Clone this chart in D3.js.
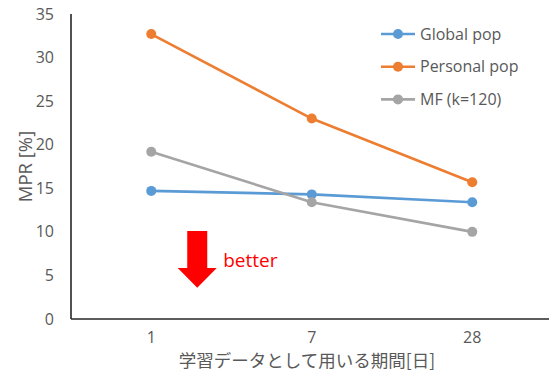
<!DOCTYPE html>
<html>
<head>
<meta charset="utf-8">
<script src="https://cdn.jsdelivr.net/npm/d3@7"></script>
<style>
  html, body { margin: 0; padding: 0; background: #fff; }
  svg { display: block; }
  text { font-family: "Open Sans", "Noto Sans", sans-serif; fill: #595959; }
</style>
</head>
<body>
<svg id="chart" width="549" height="371"></svg>
<script>
// Training-period categories (days)
const periods = ["1", "7", "28"];

// MPR [%] per method
const globalPop   = [14.7, 14.3, 13.4];
const personalPop = [32.7, 23.0, 15.7];
const mfK120      = [19.2, 13.4, 10.0];

const seriesNames = ["Global pop", "Personal pop", "MF (k=120)"];
const yTicks = [0, 5, 10, 15, 20, 25, 30, 35];

const series = [
  { name: seriesNames[0], values: globalPop,   color: "#5B9BD5" },
  { name: seriesNames[1], values: personalPop, color: "#ED7D31" },
  { name: seriesNames[2], values: mfK120,      color: "#A5A5A5" }
];

const svg = d3.select("#chart");
const plotLeft = 71, plotRight = 552.5, plotTop = 14, plotBottom = 319;

const x = d3.scaleBand().domain(periods).range([plotLeft, plotRight]);
const y = d3.scaleLinear().domain([0, 35]).range([plotBottom, plotTop]);
const cx = d => x(d) + x.bandwidth() / 2;

// Y axis: labels only, plus the axis line
const yAxis = svg.append("g")
  .attr("transform", `translate(${plotLeft},0)`)
  .call(d3.axisLeft(y).tickValues(yTicks).tickSize(0).tickPadding(17));
yAxis.select(".domain").remove();
yAxis.selectAll("text")
  .attr("font-size", 16)
  .attr("fill", "#595959")
  .style("font-family", "'Open Sans', sans-serif");

// X axis labels
const xAxis = svg.append("g")
  .attr("transform", `translate(0,${plotBottom})`)
  .call(d3.axisBottom(x).tickSize(0).tickPadding(13));
xAxis.select(".domain").remove();
xAxis.selectAll("text")
  .attr("font-size", 16)
  .attr("fill", "#595959")
  .style("font-family", "'Open Sans', sans-serif");

// Axis lines
svg.append("line")
  .attr("x1", plotLeft).attr("x2", plotLeft)
  .attr("y1", y(35)).attr("y2", y(0))
  .attr("stroke", "#262626").attr("stroke-width", 1.6);
svg.append("line")
  .attr("x1", plotLeft).attr("x2", 549)
  .attr("y1", y(0)).attr("y2", y(0))
  .attr("stroke", "#262626").attr("stroke-width", 1.6);

// Series lines and markers
const line = d3.line().x((d, i) => cx(periods[i])).y(d => y(d));
series.forEach(s => {
  svg.append("path")
    .datum(s.values)
    .attr("d", line)
    .attr("fill", "none")
    .attr("stroke", s.color)
    .attr("stroke-width", 2.6)
    .attr("stroke-linejoin", "round");
  svg.append("g").selectAll("circle")
    .data(s.values)
    .join("circle")
    .attr("cx", (d, i) => cx(periods[i]))
    .attr("cy", d => y(d))
    .attr("r", 5)
    .attr("fill", s.color);
});

// Legend
const legend = svg.append("g").attr("transform", "translate(381,34)");
series.forEach((s, i) => {
  const g = legend.append("g").attr("transform", `translate(0,${i * 32.7})`);
  g.append("line").attr("x1", 0).attr("x2", 34).attr("y1", 0).attr("y2", 0)
    .attr("stroke", s.color).attr("stroke-width", 2.6);
  g.append("circle").attr("cx", 17).attr("cy", 0).attr("r", 5).attr("fill", s.color);
  g.append("text").attr("x", 39).attr("y", 0).attr("dy", "0.35em")
    .attr("font-size", 16).text(s.name);
});

// Axis titles
svg.append("text")
  .attr("transform", `translate(32,${(y(0) + y(35)) / 2}) rotate(-90)`)
  .attr("text-anchor", "middle")
  .attr("font-size", 18.5)
  .text("MPR [%]");

svg.append("text")
  .attr("x", 307).attr("y", 367)
  .attr("text-anchor", "middle")
  .attr("font-size", 17.5)
  .style("font-family", "'Noto Sans CJK JP', sans-serif")
  .text("学習データとして用いる期間[日]");

// "better" annotation: downward arrow placed in data units
const arrowX = cx(periods[0]) + 46;
const shaftHalf = 10, headHalf = 19.5;
const arrowTop = 10.1, headStart = 5.85, arrowTip = 3.6;
svg.append("path")
  .attr("d", d3.line()([
    [arrowX - shaftHalf, y(arrowTop)],
    [arrowX + shaftHalf, y(arrowTop)],
    [arrowX + shaftHalf, y(headStart)],
    [arrowX + headHalf, y(headStart)],
    [arrowX, y(arrowTip)],
    [arrowX - headHalf, y(headStart)],
    [arrowX - shaftHalf, y(headStart)]
  ]) + "Z")
  .attr("fill", "#FF0000");

svg.append("text")
  .attr("x", arrowX + 26).attr("y", y(6.0))
  .attr("font-size", 19)
  .style("fill", "#FF0000")
  .text("better");
</script>
</body>
</html>
